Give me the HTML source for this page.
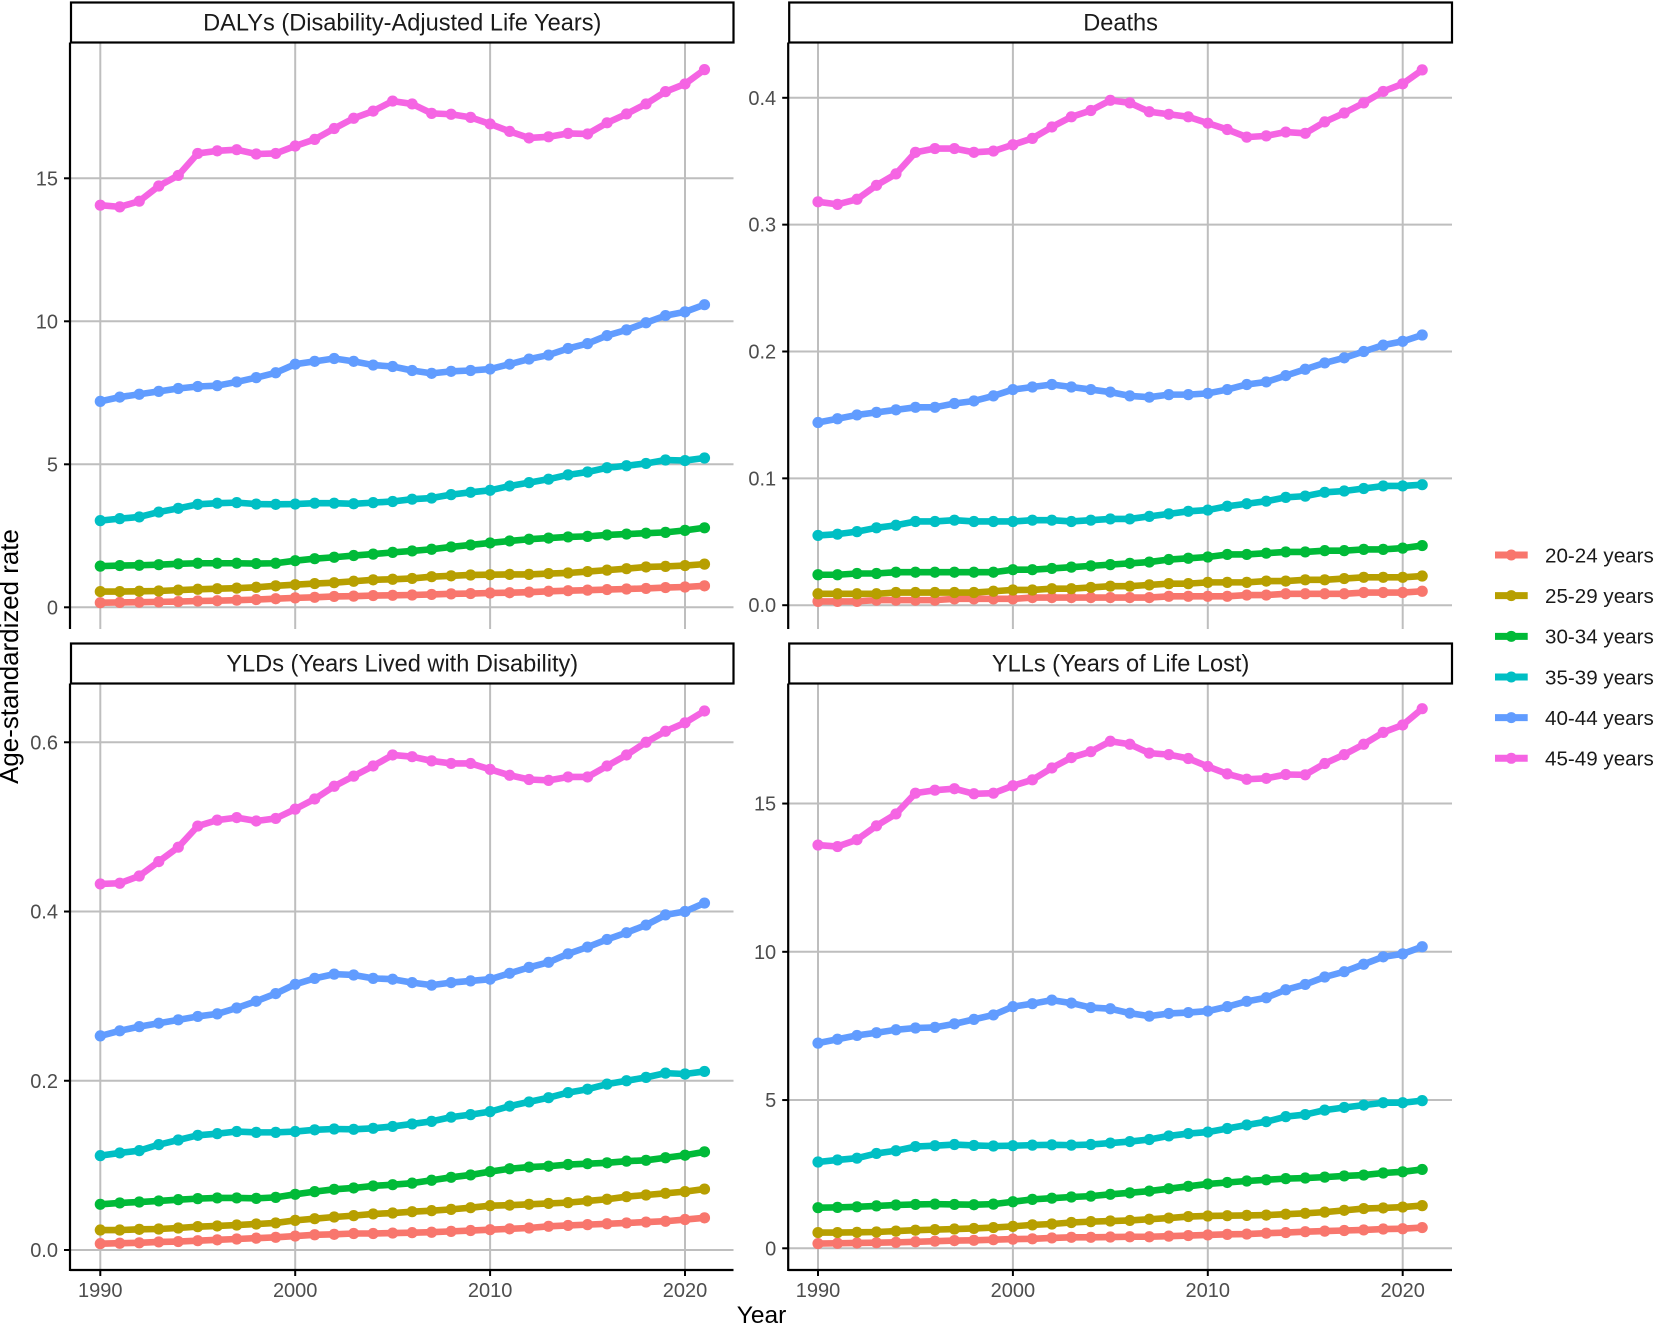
<!DOCTYPE html>
<html lang="en">
<head>
<meta charset="utf-8">
<title>Age-standardized rates by age group, 1990-2021</title>
<style>
html,body{margin:0;padding:0;background:#fff;width:1654px;height:1325px;overflow:hidden}
svg{display:block}
text{font-family:"Liberation Sans",Arial,sans-serif}
</style>
</head>
<body>
<svg id="chart" xmlns="http://www.w3.org/2000/svg" width="1654" height="1325" viewBox="0 0 1654 1325">
<text transform="translate(18,656.5) rotate(-90)" text-anchor="middle" font-size="25.9" fill="#000">Age-standardized rate</text>
<text x="761.5" y="1323" text-anchor="middle" font-size="24.5" fill="#000">Year</text>
</svg>
<script>
const startYear = 1990;
const yearCount = 32;
const xTicks = [1990, 2000, 2010, 2020];
const ageGroups = ["20-24 years", "25-29 years", "30-34 years", "35-39 years", "40-44 years", "45-49 years"];
const groupColors = ["#F8766D", "#B79F00", "#00BA38", "#00BFC4", "#619CFF", "#F564E3"];

const panelTitles = ["DALYs (Disability-Adjusted Life Years)", "Deaths", "YLDs (Years Lived with Disability)", "YLLs (Years of Life Lost)"];
const dalyTicks = ["0", "5", "10", "15"];
const deathTicks = ["0.0", "0.1", "0.2", "0.3", "0.4"];
const yldTicks = ["0.0", "0.2", "0.4", "0.6"];
const yllTicks = ["0", "5", "10", "15"];

const daly20 = [.16,.17,.18,.19,.2,.22,.23,.25,.27,.3,.33,.35,.38,.39,.41,.42,.43,.45,.47,.48,.5,.51,.53,.56,.58,.6,.62,.64,.66,.69,.71,.75];
const daly25 = [.55,.55,.56,.57,.6,.63,.65,.67,.7,.75,.79,.83,.86,.91,.96,.98,1.01,1.07,1.1,1.13,1.14,1.15,1.15,1.18,1.2,1.25,1.3,1.35,1.41,1.43,1.46,1.51];
const daly30 = [1.44,1.46,1.47,1.49,1.52,1.54,1.54,1.54,1.53,1.54,1.63,1.7,1.75,1.81,1.86,1.92,1.97,2.03,2.11,2.18,2.25,2.32,2.38,2.42,2.46,2.48,2.53,2.56,2.59,2.62,2.69,2.78];
const daly35 = [3.03,3.1,3.16,3.33,3.46,3.6,3.64,3.66,3.61,3.6,3.61,3.64,3.64,3.62,3.66,3.7,3.78,3.82,3.94,4.02,4.09,4.24,4.36,4.48,4.63,4.73,4.88,4.95,5.03,5.15,5.13,5.22];
const daly40 = [7.2,7.35,7.45,7.55,7.65,7.72,7.75,7.88,8.03,8.2,8.5,8.6,8.7,8.6,8.47,8.42,8.28,8.18,8.25,8.28,8.33,8.5,8.68,8.82,9.05,9.22,9.5,9.7,9.95,10.2,10.33,10.58];
const daly45 = [14.06,14,14.2,14.73,15.1,15.87,15.96,16,15.85,15.87,16.13,16.36,16.74,17.1,17.35,17.7,17.6,17.27,17.24,17.13,16.9,16.64,16.41,16.45,16.57,16.55,16.94,17.25,17.6,18.03,18.3,18.8];

const death20 = [.003,.003,.003,.004,.004,.004,.004,.005,.005,.005,.005,.006,.006,.006,.006,.006,.006,.006,.007,.007,.007,.007,.008,.008,.009,.009,.009,.009,.01,.01,.01,.011];
const death25 = [.009,.009,.009,.009,.01,.01,.01,.01,.01,.011,.012,.012,.013,.013,.014,.015,.015,.016,.017,.017,.018,.018,.018,.019,.019,.02,.02,.021,.022,.022,.022,.023];
const death30 = [.024,.024,.025,.025,.026,.026,.026,.026,.026,.026,.028,.028,.029,.03,.031,.032,.033,.034,.036,.037,.038,.04,.04,.041,.042,.042,.043,.043,.044,.044,.045,.047];
const death35 = [.055,.056,.058,.061,.063,.066,.066,.067,.066,.066,.066,.067,.067,.066,.067,.068,.068,.07,.072,.074,.075,.078,.08,.082,.085,.086,.089,.09,.092,.094,.094,.095];
const death40 = [.144,.147,.15,.152,.154,.156,.156,.159,.161,.165,.17,.172,.174,.172,.17,.168,.165,.164,.166,.166,.167,.17,.174,.176,.181,.186,.191,.195,.2,.205,.208,.213];
const death45 = [.318,.316,.32,.331,.34,.357,.36,.36,.357,.358,.363,.368,.377,.385,.39,.398,.396,.389,.387,.385,.38,.375,.369,.37,.373,.372,.381,.388,.396,.405,.411,.422];

const yld20 = [.0075,.008,.0085,.0095,.01,.011,.012,.013,.014,.015,.0165,.018,.0185,.0195,.0195,.02,.0205,.021,.022,.023,.024,.025,.026,.028,.029,.03,.031,.032,.033,.034,.036,.038];
const yld25 = [.0236,.0236,.0244,.0248,.026,.0276,.0284,.0295,.0307,.032,.035,.037,.039,.0406,.0426,.0437,.0453,.0465,.048,.05,.0524,.053,.054,.055,.056,.058,.06,.063,.065,.067,.069,.072];
const yld30 = [.054,.0556,.0567,.058,.0595,.0607,.0615,.0615,.061,.0622,.0658,.069,.0717,.0733,.0757,.0772,.079,.0824,.0859,.0887,.0926,.096,.098,.099,.101,.102,.103,.105,.106,.109,.112,.116];
const yld35 = [.1115,.1147,.1174,.1245,.13,.1355,.1375,.14,.139,.139,.14,.142,.143,.1426,.1438,.146,.149,.152,.157,.16,.1635,.17,.175,.18,.186,.19,.196,.2,.204,.209,.208,.211];
const yld40 = [.253,.259,.264,.268,.272,.276,.279,.286,.294,.303,.314,.321,.326,.325,.321,.32,.316,.313,.316,.318,.32,.327,.334,.34,.35,.358,.367,.375,.384,.396,.4,.41];
const yld45 = [.4326,.4334,.442,.459,.476,.501,.508,.511,.507,.51,.521,.533,.548,.56,.572,.585,.583,.578,.575,.575,.568,.561,.556,.555,.559,.559,.572,.585,.6,.613,.623,.637];

const yll20 = [.16,.17,.18,.19,.2,.22,.24,.26,.27,.29,.31,.32,.35,.37,.37,.38,.39,.39,.41,.43,.45,.47,.48,.51,.53,.56,.58,.6,.62,.65,.66,.7];
const yll25 = [.53,.53,.54,.55,.58,.61,.63,.65,.67,.7,.74,.79,.82,.87,.9,.92,.94,.98,1.02,1.07,1.09,1.1,1.11,1.12,1.15,1.18,1.22,1.28,1.34,1.36,1.39,1.44];
const yll30 = [1.37,1.38,1.4,1.43,1.46,1.48,1.49,1.48,1.47,1.49,1.57,1.65,1.69,1.73,1.76,1.82,1.87,1.93,2.01,2.09,2.17,2.22,2.27,2.31,2.35,2.37,2.4,2.44,2.47,2.54,2.58,2.66];
const yll35 = [2.91,2.98,3.04,3.2,3.29,3.43,3.46,3.5,3.47,3.45,3.46,3.48,3.49,3.48,3.5,3.55,3.6,3.67,3.79,3.87,3.92,4.04,4.16,4.27,4.44,4.51,4.66,4.75,4.83,4.91,4.91,4.98];
const yll40 = [6.92,7.05,7.18,7.27,7.37,7.43,7.45,7.57,7.72,7.87,8.15,8.25,8.37,8.27,8.12,8.08,7.93,7.83,7.92,7.95,8,8.15,8.33,8.45,8.72,8.9,9.15,9.33,9.58,9.83,9.93,10.17];
const yll45 = [13.6,13.55,13.78,14.25,14.65,15.35,15.45,15.5,15.33,15.35,15.6,15.8,16.2,16.55,16.75,17.1,17,16.7,16.65,16.52,16.25,16,15.82,15.85,15.98,15.97,16.35,16.65,17,17.4,17.65,18.2];

const dalySeries = [daly20, daly25, daly30, daly35, daly40, daly45];
const deathSeries = [death20, death25, death30, death35, death40, death45];
const yldSeries = [yld20, yld25, yld30, yld35, yld40, yld45];
const yllSeries = [yll20, yll25, yll30, yll35, yll40, yll45];

const svg = document.getElementById('chart');
const NS = 'http://www.w3.org/2000/svg';
function make(tag, parent, props) {
  const el = document.createElementNS(NS, tag);
  for (const k in props) el.setAttribute(k, props[k]);
  parent.appendChild(el);
  return el;
}
function slug(s) {
  return s.toLowerCase().replace(/[^a-z0-9]+/g, '-').replace(/^-|-$/g, '');
}

// layout of each facet; y axis is defined by two calibration values
const layouts = [
  {key: 'dalys', left: 70, right: 733.5, stripTop: 2.5, top: 42.5, bottom: 629, zero: 607.3, unit: 28.6, series: dalySeries, ticks: dalyTicks, title: panelTitles[0], xLabels: false, x0: 100.3},
  {key: 'deaths', left: 788.2, right: 1452, stripTop: 2.5, top: 42.5, bottom: 629, zero: 605.2, unit: 1268.5, series: deathSeries, ticks: deathTicks, title: panelTitles[1], xLabels: false, x0: 818},
  {key: 'ylds', left: 70, right: 733.5, stripTop: 643.5, top: 683.5, bottom: 1270, zero: 1250, unit: 846.2, series: yldSeries, ticks: yldTicks, title: panelTitles[2], xLabels: true, x0: 100.3},
  {key: 'ylls', left: 788.2, right: 1452, stripTop: 643.5, top: 683.5, bottom: 1270, zero: 1248.3, unit: 29.65, series: yllSeries, ticks: yllTicks, title: panelTitles[3], xLabels: true, x0: 818}
];
const yearStep = 19.49;

layouts.forEach(function (p) {
  const xScale = function (year) { return p.x0 + (year - startYear) * yearStep; };
  const yScale = function (v) { return p.zero - v * p.unit; };

  const g = make('g', svg, {});
  
  

  // grid
  p.ticks.forEach(function (label) {
    const y = yScale(parseFloat(label));
    const line = make('line', g, {x1: p.left, x2: p.right, y1: y, y2: y, stroke: '#BEBEBE', 'stroke-width': 2});
    
    
  });
  xTicks.forEach(function (year) {
    const x = xScale(year);
    const line = make('line', g, {x1: x, x2: x, y1: p.top, y2: p.bottom, stroke: '#BEBEBE', 'stroke-width': 2});
    
    
  });

  // series
  p.series.forEach(function (values, s) {
    const name = slug(ageGroups[s]);
    const sg = make('g', g, {});
    
    
    const pts = values.map(function (v, i) { return xScale(startYear + i).toFixed(2) + ',' + yScale(v).toFixed(2); }).join(' ');
    const line = make('polyline', sg, {points: pts, fill: 'none', stroke: groupColors[s], 'stroke-width': 6.6, 'stroke-linejoin': 'round'});
    
    
    values.forEach(function (v, i) {
      const year = startYear + i;
      const c = make('circle', sg, {cx: xScale(year), cy: yScale(v), r: 5.6, fill: groupColors[s]});
      
      
    });
  });

  // axes
  const yAxis = make('line', g, {x1: p.left, x2: p.left, y1: p.top, y2: p.bottom + (p.xLabels ? 1 : 0), stroke: '#000', 'stroke-width': 2.2});
  
  
  if (p.xLabels) {
    const xAxis = make('line', g, {x1: p.left, x2: p.right, y1: p.bottom, y2: p.bottom, stroke: '#000', 'stroke-width': 2.2});
    
    
  }
  p.ticks.forEach(function (label) {
    const y = yScale(parseFloat(label));
    const tick = make('line', g, {x1: p.left - 6, x2: p.left, y1: y, y2: y, stroke: '#000', 'stroke-width': 2});
    
    
    const t = make('text', g, {x: p.left - 12, y: y + 7, 'text-anchor': 'end', 'font-size': 20, fill: '#4D4D4D'});
    t.textContent = label;
    
    
  });
  if (p.xLabels) {
    xTicks.forEach(function (year) {
      const x = xScale(year);
      const tick = make('line', g, {x1: x, x2: x, y1: p.bottom, y2: p.bottom + 6, stroke: '#000', 'stroke-width': 2});
      
      
      const t = make('text', g, {x: x, y: p.bottom + 27, 'text-anchor': 'middle', 'font-size': 20, fill: '#4D4D4D'});
      t.textContent = String(year);
      
      
    });
  }

  // facet strip
  const strip = make('rect', g, {x: p.left + 1, y: p.stripTop, width: p.right - p.left - 1, height: p.top - p.stripTop, fill: '#fff', stroke: '#000', 'stroke-width': 2.2});
  
  
  const st = make('text', g, {x: (p.left + p.right) / 2 + 0.5, y: p.stripTop + 28, 'text-anchor': 'middle', 'font-size': 23.6, fill: '#1A1A1A'});
  st.textContent = p.title;
  
  
});

// legend
const legendFirstY = 555;
const legendGap = 40.66;
const legend = make('g', svg, {});


ageGroups.forEach(function (label, i) {
  const y = legendFirstY + i * legendGap;
  const name = slug(label);
  const entry = make('g', legend, {});
  
  
  const ln = make('line', entry, {x1: 1495, x2: 1527.7, y1: y, y2: y, stroke: groupColors[i], 'stroke-width': 7});
  
  
  const dot = make('circle', entry, {cx: 1511.3, cy: y, r: 5.5, fill: groupColors[i]});
  
  
  const t = make('text', entry, {x: 1545, y: y + 7.3, 'font-size': 20.6, fill: '#1A1A1A'});
  t.textContent = label;
  
  
});
</script>
</body>
</html>
